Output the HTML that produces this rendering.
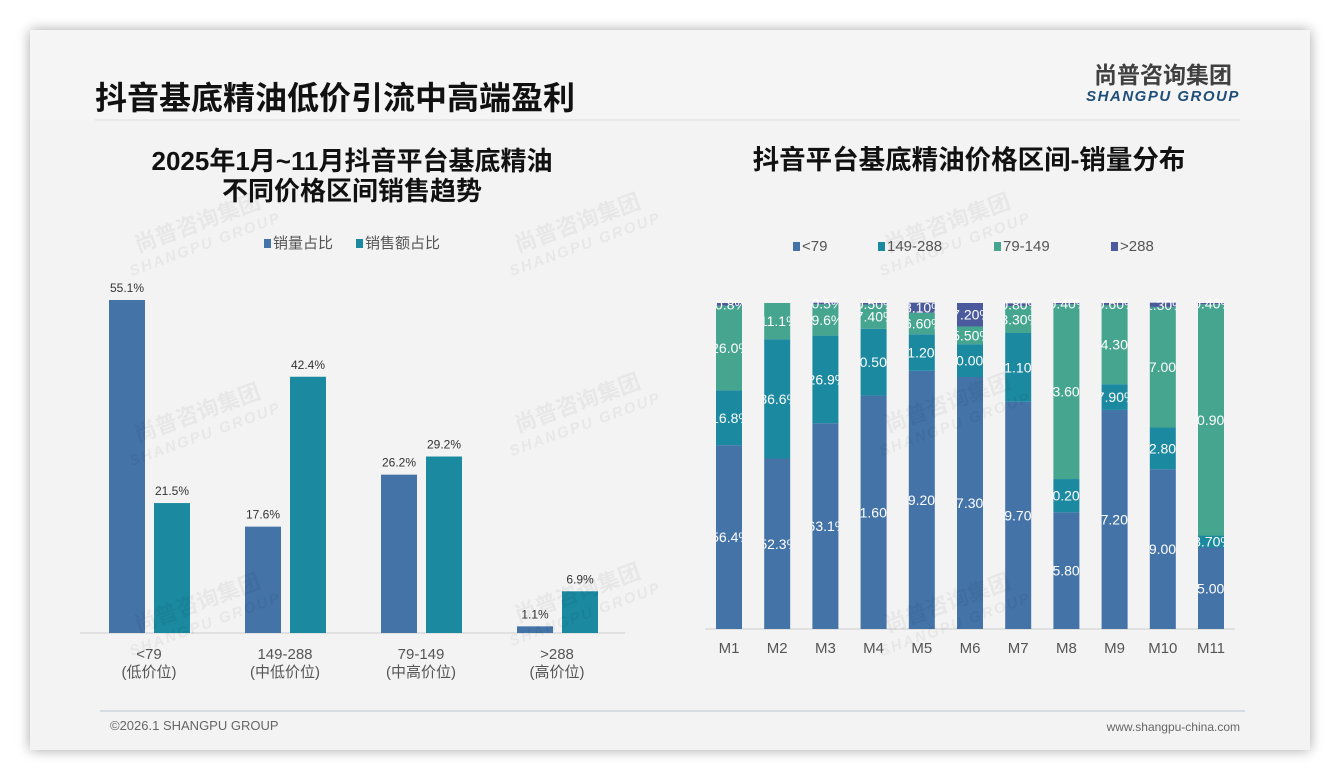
<!DOCTYPE html>
<html><head><meta charset="utf-8">
<style>
body{margin:0;width:1340px;height:780px;background:#fff;font-family:"Liberation Sans","Noto Sans CJK SC",sans-serif;overflow:hidden}
#card{position:absolute;left:30px;top:30px;width:1280px;height:720px;background:#f3f3f3;box-shadow:0 0 12px rgba(0,0,0,.35)}
svg{position:absolute;left:0;top:0}
</style></head><body>
<div id="card"></div>
<svg id="s" width="1340" height="780">
<rect x="30" y="30" width="1280" height="90" fill="#f5f5f5"/>
<text x="95" y="109" font-size="32" font-weight="bold" fill="#111">抖音基底精油低价引流中高端盈利</text>
<line x1="95" y1="120" x2="1240" y2="120" stroke="#ddd"/>
<text x="1163" y="83" font-size="23" font-weight="bold" fill="#404040" text-anchor="middle">尚普咨询集团</text>
<text x="1163" y="101" font-size="15" font-weight="bold" font-style="italic" fill="#1f4e79" text-anchor="middle" letter-spacing="1.5">SHANGPU GROUP</text>
<text x="352" y="170" font-size="26" font-weight="bold" fill="#111" text-anchor="middle">2025年1月~11月抖音平台基底精油</text>
<text x="352" y="200" font-size="26" font-weight="bold" fill="#111" text-anchor="middle">不同价格区间销售趋势</text>
<text x="969" y="169" font-size="26.5" font-weight="bold" fill="#111" text-anchor="middle">抖音平台基底精油价格区间-销量分布</text>
<line x1="100" y1="711" x2="1245" y2="711" stroke="#b8c4d0"/>
<text x="110" y="730" font-size="13" fill="#666">©2026.1 SHANGPU GROUP</text>
<text x="1240" y="731" font-size="12" fill="#666" text-anchor="end">www.shangpu-china.com</text>
<g id="left"></g>
<g id="right"></g>
</svg>
<script>
const catsL=["<79","149-288","79-149",">288"];
const subL=["(低价位)","(中低价位)","(中高价位)","(高价位)"];
const volShare=[55.1,17.6,26.2,1.1];
const amtShare=[21.5,42.4,29.2,6.9];
const months=["M1","M2","M3","M4","M5","M6","M7","M8","M9","M10","M11"];
const sLow=[56.4,52.3,63.1,71.6,79.2,77.3,69.7,35.8,67.2,49.0,25.0];
const sMid1=[16.8,36.6,26.9,20.5,11.2,10.0,21.1,10.2,7.9,12.8,3.7];
const sMid2=[26.0,11.1,9.6,7.4,6.6,5.5,8.3,53.6,24.3,37.0,70.9];
const sHigh=[0.8,0,0.5,0.5,3.1,7.2,0.8,0.4,0.6,1.3,0.4];
const lowLbl=["56.4%","52.3%","63.1%","71.60%","79.20%","77.30%","69.70%","35.80%","67.20%","49.00%","25.00%"];
const mid1Lbl=["16.8%","36.6%","26.9%","20.50%","11.20%","10.00%","21.10%","10.20%","7.90%","12.80%","3.70%"];
const mid2Lbl=["26.0%","11.1%","9.6%","7.40%","6.60%","5.50%","8.30%","53.60%","24.30%","37.00%","70.90%"];
const highLbl=["0.8%","","0.5%","0.50%","3.10%","7.20%","0.80%","0.40%","0.60%","1.30%","0.40%"];
const NS="http://www.w3.org/2000/svg";
function mk(p,t,a,txt){const e=document.createElementNS(NS,t);for(const k in a)e.setAttribute(k,a[k]);if(txt!==undefined)e.textContent=txt;p.appendChild(e);return e;}
const C1="#4473a8",C2="#1b89a0",C3="#45a58e",C4="#4b5a9c";
const svg=document.getElementById('s');
[[200,230],[580,230],[950,230],[200,420],[580,410],[950,410],[200,610],[580,600],[950,610]].forEach(p=>{
 const g=mk(svg,'g',{transform:`translate(${p[0]},${p[1]}) rotate(-20)`,opacity:0.045});
 
 
 mk(g,'text',{x:0,y:0,'font-size':22,'font-weight':'bold',fill:'#000','text-anchor':'middle'},'尚普咨询集团');
 mk(g,'text',{x:0,y:20,'font-size':15,'font-weight':'bold','font-style':'italic',fill:'#000','text-anchor':'middle','letter-spacing':2},'SHANGPU GROUP');
});
const L=document.getElementById('left');
const base=633, pxPer=333/55.1;
const yL=v=>base-v*pxPer;
const xL=i=>109+i*136;
function legend(p,x,y,color,label,name){
 const r=mk(p,'rect',{x:x,y:y-9,width:7,height:9,fill:color});
 
 
 const t=mk(p,'text',{x:x+9,y:y,'font-size':15,fill:'#555'},label);
 
 
}
legend(L,264,248,C1,'销量占比','legend-volume');
legend(L,356,248,C2,'销售额占比','legend-amount');
mk(L,'line',{x1:80,y1:base,x2:625,y2:base,stroke:'#ccc'});
catsL.forEach((c,i)=>{
 const x=xL(i);
 const b1=mk(L,'rect',{x:x,y:yL(volShare[i]),width:36,height:volShare[i]*pxPer,fill:C1});
 
 
 const b2=mk(L,'rect',{x:x+45,y:yL(amtShare[i]),width:36,height:amtShare[i]*pxPer,fill:C2});
 
 
 const t1=mk(L,'text',{x:x+18,y:yL(volShare[i])-8,'font-size':12,fill:'#333','text-anchor':'middle'},volShare[i].toFixed(1)+'%');
 
 
 const t2=mk(L,'text',{x:x+63,y:yL(amtShare[i])-8,'font-size':12,fill:'#333','text-anchor':'middle'},amtShare[i].toFixed(1)+'%');
 
 
 const cx=x+40;
 const a=mk(L,'text',{x:cx,y:659,'font-size':15,fill:'#555','text-anchor':'middle'},c);
 
 
 const b=mk(L,'text',{x:cx,y:677,'font-size':15,fill:'#555','text-anchor':'middle'},subL[i]);
 
 
});
const R=document.getElementById('right');
const rb=629, rtop=303, H=rb-rtop;
const yR=v=>rb-v/100*H;
const xR=i=>716+i*48.2;
legend(R,793,251,C1,'<79','legend-lt79');
legend(R,878,251,C2,'149-288','legend-149-288');
legend(R,994,251,C3,'79-149','legend-79-149');
legend(R,1111,251,C4,'>288','legend-gt288');
mk(R,'line',{x1:705,y1:rb,x2:1235,y2:rb,stroke:'#ccc'});
const defs=mk(R,'defs',{});
months.forEach((m,i)=>{
 const x=xR(i),w=26;
 const cp=mk(defs,'clipPath',{id:'cp'+i});
 mk(cp,'rect',{x:x,y:rtop-5,width:w,height:H+5});
 const series=[[sLow,lowLbl,C1,'lt79'],[sMid1,mid1Lbl,C2,'149-288'],[sMid2,mid2Lbl,C3,'79-149'],[sHigh,highLbl,C4,'gt288']];
 let acc=0;
 series.forEach(s=>{
  const v=s[0][i];
  const y0=yR(acc),y1=yR(acc+v);
  const r=mk(R,'rect',{x:x,y:y1,width:w,height:y0-y1,fill:s[2]});
  
  
  if(s[1][i]){
   const t=mk(R,'text',{x:x+w/2+2,y:(y0+y1)/2+5,'font-size':14,fill:'#fff','text-anchor':'middle','clip-path':'url(#cp'+i+')'},s[1][i]);
   
   
  }
  acc+=v;
 });
 const t=mk(R,'text',{x:x+w/2,y:653,'font-size':15,fill:'#555','text-anchor':'middle'},m);
 
 
});
</script>
</body></html>
